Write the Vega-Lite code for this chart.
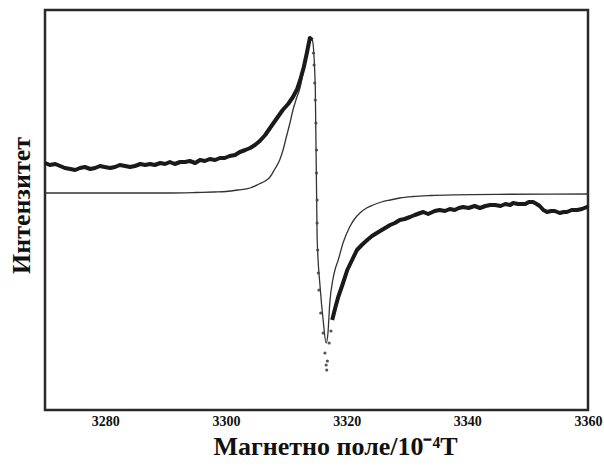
{
  "$schema": "https://vega.github.io/schema/vega-lite/v6.json",
  "autosize": {"type": "none"},
  "padding": {"left": 45, "top": 10, "right": 16, "bottom": 56},
  "width": 543,
  "height": 400,
  "background": "white",
  "config": {"view": {"stroke": "#2a2a2a", "strokeWidth": 2.5}},
  "datasets": {
    "fit": [
      {"B": 3270, "I": 0}, {"B": 3290, "I": 0}, {"B": 3295, "I": 0.5}, {"B": 3298, "I": 1},
      {"B": 3300, "I": 1.5}, {"B": 3302, "I": 3}, {"B": 3304, "I": 5}, {"B": 3305.5, "I": 9},
      {"B": 3306.5, "I": 12}, {"B": 3307.3, "I": 16}, {"B": 3308.1, "I": 24}, {"B": 3308.9, "I": 33},
      {"B": 3309.5, "I": 44}, {"B": 3310, "I": 56}, {"B": 3310.6, "I": 70}, {"B": 3311.1, "I": 83},
      {"B": 3311.7, "I": 95}, {"B": 3312.3, "I": 106}, {"B": 3312.7, "I": 118}, {"B": 3313.1, "I": 130},
      {"B": 3313.5, "I": 143}, {"B": 3313.9, "I": 155}, {"B": 3314.3, "I": 153}, {"B": 3314.8, "I": 106},
      {"B": 3315.1, "I": -44}, {"B": 3315.6, "I": -94}, {"B": 3316.1, "I": -127}, {"B": 3316.6, "I": -150},
      {"B": 3316.9, "I": -140}, {"B": 3317.2, "I": -110}, {"B": 3317.7, "I": -87}, {"B": 3318.1, "I": -76},
      {"B": 3318.6, "I": -67}, {"B": 3319.4, "I": -50}, {"B": 3320.5, "I": -34}, {"B": 3321.3, "I": -26},
      {"B": 3322.2, "I": -20}, {"B": 3323.3, "I": -15}, {"B": 3324.4, "I": -12}, {"B": 3325.8, "I": -9},
      {"B": 3327.2, "I": -7}, {"B": 3328.8, "I": -5}, {"B": 3331, "I": -3.5}, {"B": 3334, "I": -2.5},
      {"B": 3338, "I": -1.8}, {"B": 3345, "I": -1.3}, {"B": 3360, "I": -1}
    ],
    "exp": [
      {"B": 3270.0, "I": 30, "part": "L"}, {"B": 3270.8, "I": 28, "part": "L"}, {"B": 3271.7, "I": 29, "part": "L"},
      {"B": 3272.5, "I": 27, "part": "L"}, {"B": 3273.3, "I": 25, "part": "L"}, {"B": 3274.2, "I": 24, "part": "L"},
      {"B": 3275.0, "I": 23, "part": "L"}, {"B": 3275.8, "I": 25, "part": "L"}, {"B": 3276.6, "I": 26, "part": "L"},
      {"B": 3277.5, "I": 24, "part": "L"}, {"B": 3278.3, "I": 25, "part": "L"}, {"B": 3279.1, "I": 27, "part": "L"},
      {"B": 3279.9, "I": 26, "part": "L"}, {"B": 3280.8, "I": 25, "part": "L"}, {"B": 3281.6, "I": 26, "part": "L"},
      {"B": 3282.4, "I": 28, "part": "L"}, {"B": 3283.3, "I": 27, "part": "L"}, {"B": 3284.1, "I": 26, "part": "L"},
      {"B": 3284.9, "I": 27, "part": "L"}, {"B": 3285.8, "I": 29, "part": "L"}, {"B": 3286.6, "I": 28, "part": "L"},
      {"B": 3287.4, "I": 29, "part": "L"}, {"B": 3288.2, "I": 28, "part": "L"}, {"B": 3289.1, "I": 30, "part": "L"},
      {"B": 3289.9, "I": 29, "part": "L"}, {"B": 3290.7, "I": 31, "part": "L"}, {"B": 3291.5, "I": 29, "part": "L"},
      {"B": 3292.4, "I": 31, "part": "L"}, {"B": 3293.2, "I": 31, "part": "L"}, {"B": 3294.0, "I": 32, "part": "L"},
      {"B": 3294.9, "I": 30, "part": "L"}, {"B": 3295.7, "I": 33, "part": "L"}, {"B": 3296.5, "I": 32, "part": "L"},
      {"B": 3297.3, "I": 34, "part": "L"}, {"B": 3298.2, "I": 33, "part": "L"}, {"B": 3299.0, "I": 35, "part": "L"},
      {"B": 3299.8, "I": 35, "part": "L"}, {"B": 3300.6, "I": 37, "part": "L"}, {"B": 3301.5, "I": 38, "part": "L"},
      {"B": 3302.3, "I": 41, "part": "L"}, {"B": 3303.2, "I": 43, "part": "L"}, {"B": 3304.0, "I": 45, "part": "L"},
      {"B": 3304.8, "I": 48, "part": "L"}, {"B": 3305.6, "I": 52, "part": "L"}, {"B": 3306.5, "I": 58, "part": "L"},
      {"B": 3307.3, "I": 65, "part": "L"}, {"B": 3308.0, "I": 71, "part": "L"}, {"B": 3308.7, "I": 77, "part": "L"},
      {"B": 3309.4, "I": 83, "part": "L"}, {"B": 3310.3, "I": 89, "part": "L"}, {"B": 3311.1, "I": 96, "part": "L"},
      {"B": 3311.8, "I": 104, "part": "L"}, {"B": 3312.3, "I": 113, "part": "L"}, {"B": 3312.9, "I": 126, "part": "L"},
      {"B": 3313.4, "I": 140, "part": "L"}, {"B": 3313.9, "I": 155, "part": "L"}, {"B": 3314.3, "I": 153, "part": "L"},
      {"B": 3314.5, "I": 140, "part": "D"}, {"B": 3314.6, "I": 128, "part": "D"}, {"B": 3314.7, "I": 110, "part": "D"},
      {"B": 3314.8, "I": 93, "part": "D"}, {"B": 3314.9, "I": 70, "part": "D"}, {"B": 3315.0, "I": 43, "part": "D"},
      {"B": 3315.0, "I": 20, "part": "D"}, {"B": 3315.1, "I": -7, "part": "D"}, {"B": 3315.1, "I": -30, "part": "D"},
      {"B": 3315.2, "I": -57, "part": "D"}, {"B": 3315.3, "I": -80, "part": "D"}, {"B": 3315.4, "I": -97, "part": "D"},
      {"B": 3315.7, "I": -120, "part": "D"}, {"B": 3316.1, "I": -140, "part": "D"}, {"B": 3316.4, "I": -160, "part": "D"},
      {"B": 3316.6, "I": -172, "part": "D"}, {"B": 3316.7, "I": -177, "part": "D"}, {"B": 3316.8, "I": -168, "part": "D"},
      {"B": 3317.1, "I": -150, "part": "D"}, {"B": 3317.4, "I": -138, "part": "D"},
      {"B": 3317.6, "I": -127, "part": "R"}, {"B": 3318.1, "I": -115, "part": "R"},
      {"B": 3318.6, "I": -104, "part": "R"}, {"B": 3319.4, "I": -90, "part": "R"}, {"B": 3320.1, "I": -77, "part": "R"},
      {"B": 3320.9, "I": -67, "part": "R"}, {"B": 3321.7, "I": -57, "part": "R"}, {"B": 3322.5, "I": -52, "part": "R"},
      {"B": 3323.4, "I": -47, "part": "R"}, {"B": 3324.2, "I": -43, "part": "R"}, {"B": 3325.0, "I": -40, "part": "R"},
      {"B": 3326.1, "I": -36, "part": "R"}, {"B": 3327.2, "I": -32, "part": "R"}, {"B": 3328.0, "I": -30, "part": "R"},
      {"B": 3328.8, "I": -27, "part": "R"}, {"B": 3329.6, "I": -26, "part": "R"}, {"B": 3330.5, "I": -24, "part": "R"},
      {"B": 3331.3, "I": -22, "part": "R"}, {"B": 3332.2, "I": -20, "part": "R"}, {"B": 3332.7, "I": -19, "part": "R"},
      {"B": 3333.5, "I": -21, "part": "R"}, {"B": 3334.6, "I": -18, "part": "R"}, {"B": 3335.4, "I": -17, "part": "R"},
      {"B": 3336.3, "I": -18, "part": "R"}, {"B": 3337.1, "I": -16, "part": "R"}, {"B": 3337.9, "I": -17, "part": "R"},
      {"B": 3338.6, "I": -15, "part": "R"}, {"B": 3339.3, "I": -14, "part": "R"}, {"B": 3340.2, "I": -15, "part": "R"},
      {"B": 3341.2, "I": -13, "part": "R"}, {"B": 3342.1, "I": -15, "part": "R"}, {"B": 3343.0, "I": -13, "part": "R"},
      {"B": 3343.8, "I": -12, "part": "R"}, {"B": 3344.6, "I": -12, "part": "R"}, {"B": 3345.5, "I": -13, "part": "R"},
      {"B": 3346.3, "I": -11, "part": "R"}, {"B": 3347.1, "I": -12, "part": "R"}, {"B": 3347.6, "I": -10, "part": "R"},
      {"B": 3348.4, "I": -11, "part": "R"}, {"B": 3349.6, "I": -11, "part": "R"}, {"B": 3350.2, "I": -9, "part": "R"},
      {"B": 3350.9, "I": -9, "part": "R"}, {"B": 3351.5, "I": -11, "part": "R"}, {"B": 3352.0, "I": -13, "part": "R"},
      {"B": 3352.6, "I": -17, "part": "R"}, {"B": 3353.2, "I": -19, "part": "R"}, {"B": 3353.9, "I": -18, "part": "R"},
      {"B": 3354.5, "I": -18, "part": "R"}, {"B": 3355.3, "I": -20, "part": "R"}, {"B": 3356.0, "I": -19, "part": "R"},
      {"B": 3356.5, "I": -19, "part": "R"}, {"B": 3357.3, "I": -17, "part": "R"}, {"B": 3358.2, "I": -17, "part": "R"},
      {"B": 3359.0, "I": -16, "part": "R"}, {"B": 3359.8, "I": -14, "part": "R"}, {"B": 3360.0, "I": -15, "part": "R"}
    ]
  },
  "encoding": {
    "x": {
      "field": "B", "type": "quantitative",
      "scale": {"domain": [3270, 3360], "nice": false, "zero": false},
      "axis": {
        "values": [3280, 3300, 3320, 3340, 3360],
        "title": "Магнетно поле/10⁻⁴T",
        "titleFont": "Liberation Serif", "titleFontSize": 26, "titleFontWeight": "bold", "titleColor": "#111",
        "titlePadding": 5, "titleX": 290,
        "labelFont": "Liberation Serif", "labelFontSize": 14, "labelFontWeight": "bold", "labelColor": "#111",
        "labelPadding": 4, "labelFlush": false, "labelOverlap": false,
        "ticks": false, "domain": false, "grid": false, "format": "d"
      }
    },
    "y": {
      "field": "I", "type": "quantitative",
      "scale": {"domain": [-217, 183], "nice": false, "zero": false},
      "axis": {
        "title": "Интензитет",
        "titleFont": "Liberation Serif", "titleFontSize": 26, "titleFontWeight": "bold", "titleColor": "#111",
        "titlePadding": 11, "titleY": 195,
        "labels": false, "ticks": false, "domain": false, "grid": false
      }
    }
  },
  "layer": [
    {
      "data": {"name": "fit"},
      "mark": {"type": "line", "color": "#333333", "strokeWidth": 1.3, "interpolate": "monotone"}
    },
    {
      "data": {"name": "exp"},
      "transform": [{"filter": "datum.part != 'D'"}],
      "mark": {"type": "line", "color": "#1a1a1a", "strokeWidth": 4, "strokeJoin": "round"},
      "encoding": {"detail": {"field": "part"}}
    },
    {
      "data": {"name": "exp"},
      "transform": [{"filter": "datum.part == 'D'"}],
      "mark": {"type": "point", "filled": true, "color": "#444444", "size": 10, "opacity": 0.9}
    }
  ]
}
